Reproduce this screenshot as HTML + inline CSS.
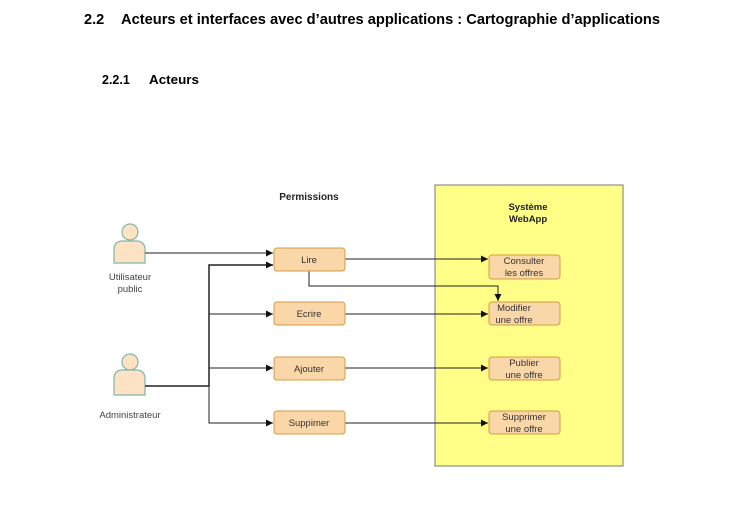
<!DOCTYPE html>
<html><head><meta charset="utf-8"><style>
html,body{margin:0;padding:0;background:#fff;width:751px;height:523px;overflow:hidden}
svg{display:block}
</style></head><body>
<svg width="751" height="523" xmlns="http://www.w3.org/2000/svg" font-family="Liberation Sans, Arial, sans-serif">
<defs><marker id="a" markerWidth="8" markerHeight="8" refX="7" refY="4" orient="auto" markerUnits="userSpaceOnUse"><path d="M0,0.5 L7,4 L0,7.5 Z" fill="#111"/></marker></defs>
<text x="84" y="24" font-size="14.6" font-weight="bold" fill="#000">2.2<tspan x="121" textLength="539" lengthAdjust="spacingAndGlyphs">Acteurs et interfaces avec d’autres applications : Cartographie d’applications</tspan></text>
<text x="102" y="84" font-size="12.5" font-weight="bold" fill="#000">2.2.1<tspan x="149" textLength="50" lengthAdjust="spacingAndGlyphs">Acteurs</tspan></text>
<text x="309" y="200" font-size="10" font-weight="bold" fill="#222" text-anchor="middle">Permissions</text>
<rect x="435" y="185" width="188" height="281" fill="#ffff88" stroke="#777" stroke-width="1"/>
<text x="528" y="210" font-size="9.5" font-weight="bold" fill="#222" text-anchor="middle">Système</text>
<text x="528" y="222" font-size="9.5" font-weight="bold" fill="#222" text-anchor="middle">WebApp</text>
<g fill="#fde3c4" stroke="#7fb8a8" stroke-width="1.2">
<circle cx="130" cy="232" r="8"/>
<path d="M114,263 L114,250 Q114,241 123,241 L136,241 Q145,241 145,250 L145,263 Z"/>
<circle cx="130" cy="362" r="8"/>
<path d="M114,395 L114,379 Q114,370 123,370 L136,370 Q145,370 145,379 L145,395 Z"/>
</g>
<text x="130" y="280" font-size="9.5" fill="#444" text-anchor="middle">Utilisateur</text>
<text x="130" y="292" font-size="9.5" fill="#444" text-anchor="middle">public</text>
<text x="130" y="418" font-size="9.5" fill="#444" text-anchor="middle">Administrateur</text>
<g stroke="#222" stroke-width="1" fill="none">
<path d="M145,253 H273" marker-end="url(#a)"/>
<path d="M145,386 H209 V265 H273" marker-end="url(#a)" stroke-width="1.5"/>
<path d="M209,314 H273" marker-end="url(#a)"/>
<path d="M209,368 H273" marker-end="url(#a)"/>
<path d="M209,386 V423 H273" marker-end="url(#a)"/>
<path d="M345,259 H488" marker-end="url(#a)"/>
<path d="M309,271 V286 H498 V301" marker-end="url(#a)"/>
<path d="M345,314 H488" marker-end="url(#a)"/>
<path d="M345,368 H488" marker-end="url(#a)"/>
<path d="M345,423 H488" marker-end="url(#a)"/>
</g>
<g fill="#fad7a8" stroke="#d79b40" stroke-width="1">
<rect x="274" y="248" width="71" height="23" rx="3"/>
<rect x="274" y="302" width="71" height="23" rx="3"/>
<rect x="274" y="357" width="71" height="23" rx="3"/>
<rect x="274" y="411" width="71" height="23" rx="3"/>
<rect x="489" y="255" width="71" height="24" rx="3"/>
<rect x="489" y="302" width="71" height="23" rx="3"/>
<rect x="489" y="357" width="71" height="23" rx="3"/>
<rect x="489" y="411" width="71" height="23" rx="3"/>
</g>
<g font-size="9.5" fill="#333" text-anchor="middle">
<text x="309" y="263">Lire</text>
<text x="309" y="317">Ecrire</text>
<text x="309" y="372">Ajouter</text>
<text x="309" y="426">Suppimer</text>
<text x="524" y="264">Consulter</text>
<text x="524" y="276">les offres</text>
<text x="514" y="311">Modifier</text>
<text x="514" y="323">une offre</text>
<text x="524" y="366">Publier</text>
<text x="524" y="378">une offre</text>
<text x="524" y="420">Supprimer</text>
<text x="524" y="432">une offre</text>
</g>
</svg>
</body></html>
